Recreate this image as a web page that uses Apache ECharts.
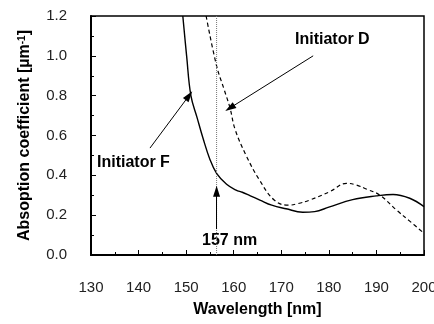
<!DOCTYPE html>
<html>
<head>
<meta charset="utf-8">
<script src="https://cdn.jsdelivr.net/npm/echarts@6/dist/echarts.min.js"></script>
<style>
  html, body { margin: 0; padding: 0; background: #fff; }
  #chart { width: 434px; height: 324px; }
</style>
</head>
<body>
<div id="chart"></div>
<script>
// Initiator F (solid) : [wavelength nm, absorption µm-1]
const initiatorF = [
  [149.3, 1.2], [150.1, 1.0], [151.0, 0.8], [152.3, 0.69], [153.5, 0.59],
  [155.0, 0.48], [156.4, 0.41], [158.5, 0.355], [160.5, 0.326], [161.8, 0.315],
  [163.5, 0.297], [165.5, 0.276], [168.0, 0.25], [171.0, 0.232], [174.5, 0.215],
  [177.0, 0.218], [180.0, 0.24], [185.0, 0.278], [190.0, 0.297], [193.5, 0.304],
  [197.0, 0.285], [200.0, 0.243]
];

// Initiator D (dashed)
const initiatorD = [
  [154.2, 1.2], [156.4, 0.95], [158.0, 0.83], [159.2, 0.74], [160.3, 0.63],
  [162.6, 0.5], [165.4, 0.377], [168.5, 0.276], [171.4, 0.25], [173.5, 0.258],
  [176.0, 0.276], [180.2, 0.318], [183.7, 0.36], [185.8, 0.351], [188.0, 0.33],
  [190.7, 0.301], [194.2, 0.226], [197.0, 0.17], [200.0, 0.109]
];

const markerX = 156.4; // dotted line labelled "157 nm"

// annotation arrows, tail -> head, in data units
const arrowD = [[176.7, 1.0], [159.2, 0.738]];
const arrowF = [[142.4, 0.537], [150.6, 0.8]];
const arrow157 = [[156.4, 0.13], [156.4, 0.32]];

const xTicks = [130, 200, 10];
const yTicks = [0, 1.2, 0.2];

const chart = echarts.init(document.getElementById("chart"));
const font = "Liberation Sans, Arial, sans-serif";

const toArrow = (a) => [{ coord: a[0] }, { coord: a[1] }];

chart.setOption({
  animation: false,
  grid: {
    left: 91, right: 10, top: 16, bottom: 69,
    outerBoundsMode: "none",
    containLabel: false,
    show: true, borderColor: "#000", borderWidth: 1.5
  },
  xAxis: {
    type: "value",
    min: xTicks[0], max: xTicks[1], interval: xTicks[2],
    name: "Wavelength [nm]",
    nameLocation: "middle",
    nameGap: 47,
    nameTextStyle: { fontFamily: font, fontWeight: "bold", fontSize: 16, color: "#000" },
    axisLine: { lineStyle: { color: "#000", width: 2 } },
    axisTick: { inside: true, length: 5, lineStyle: { color: "#000" } },
    minorTick: { show: true, splitNumber: 2, length: 3, lineStyle: { color: "#000" } },
    splitLine: { show: false },
    axisLabel: { fontFamily: font, fontSize: 15, color: "#222", margin: 25 }
  },
  yAxis: {
    type: "value",
    min: yTicks[0], max: yTicks[1], interval: yTicks[2],
    name: "{t|Absoption coefficient [µm}{s|-1}{t|]}",
    nameLocation: "middle",
    nameRotate: 90,
    nameGap: 58,
    nameTextStyle: {
      rich: {
        t: { fontFamily: font, fontWeight: "bold", fontSize: 16, color: "#000" },
        s: { fontFamily: font, fontWeight: "bold", fontSize: 10, color: "#000", verticalAlign: "top" }
      }
    },
    axisLine: { show: true, lineStyle: { color: "#000", width: 2 } },
    axisTick: { inside: true, length: 5, lineStyle: { color: "#000" } },
    minorTick: { show: true, splitNumber: 2, length: 3, lineStyle: { color: "#000" } },
    splitLine: { show: false },
    axisLabel: {
      fontFamily: font, fontSize: 15, color: "#222", margin: 24,
      formatter: (v) => v.toFixed(1)
    }
  },
  series: [
    {
      name: "Initiator F",
      type: "line",
      data: initiatorF,
      smooth: 0.4,
      showSymbol: false,
      clip: true,
      lineStyle: { color: "#000", width: 1.4 }
    },
    {
      name: "Initiator D",
      type: "line",
      data: initiatorD,
      smooth: 0.4,
      showSymbol: false,
      clip: true,
      lineStyle: { color: "#000", width: 1.2, type: [4, 3] }
    },
    {
      name: "157 nm",
      type: "line",
      data: [[markerX, yTicks[0]], [markerX, yTicks[1]]],
      showSymbol: false,
      lineStyle: { color: "#777", width: 1, type: [1, 1] },
      markLine: {
        silent: true,
        symbol: ["none", "triangle"],
        symbolSize: [7, 11],
        label: { show: false },
        lineStyle: { color: "#000", width: 1, type: "solid" },
        data: [toArrow(arrowD), toArrow(arrowF), toArrow(arrow157)]
      }
    }
  ],
  graphic: [
    { type: "text", left: 295, top: 32, style: { text: "Initiator D", font: "bold 16px " + font, fill: "#000" } },
    { type: "text", left: 97, top: 155, style: { text: "Initiator F", font: "bold 16px " + font, fill: "#000" } },
    { type: "text", left: 202, top: 233, style: { text: "157 nm", font: "bold 16px " + font, fill: "#000" } }
  ]
});
</script>
</body>
</html>
